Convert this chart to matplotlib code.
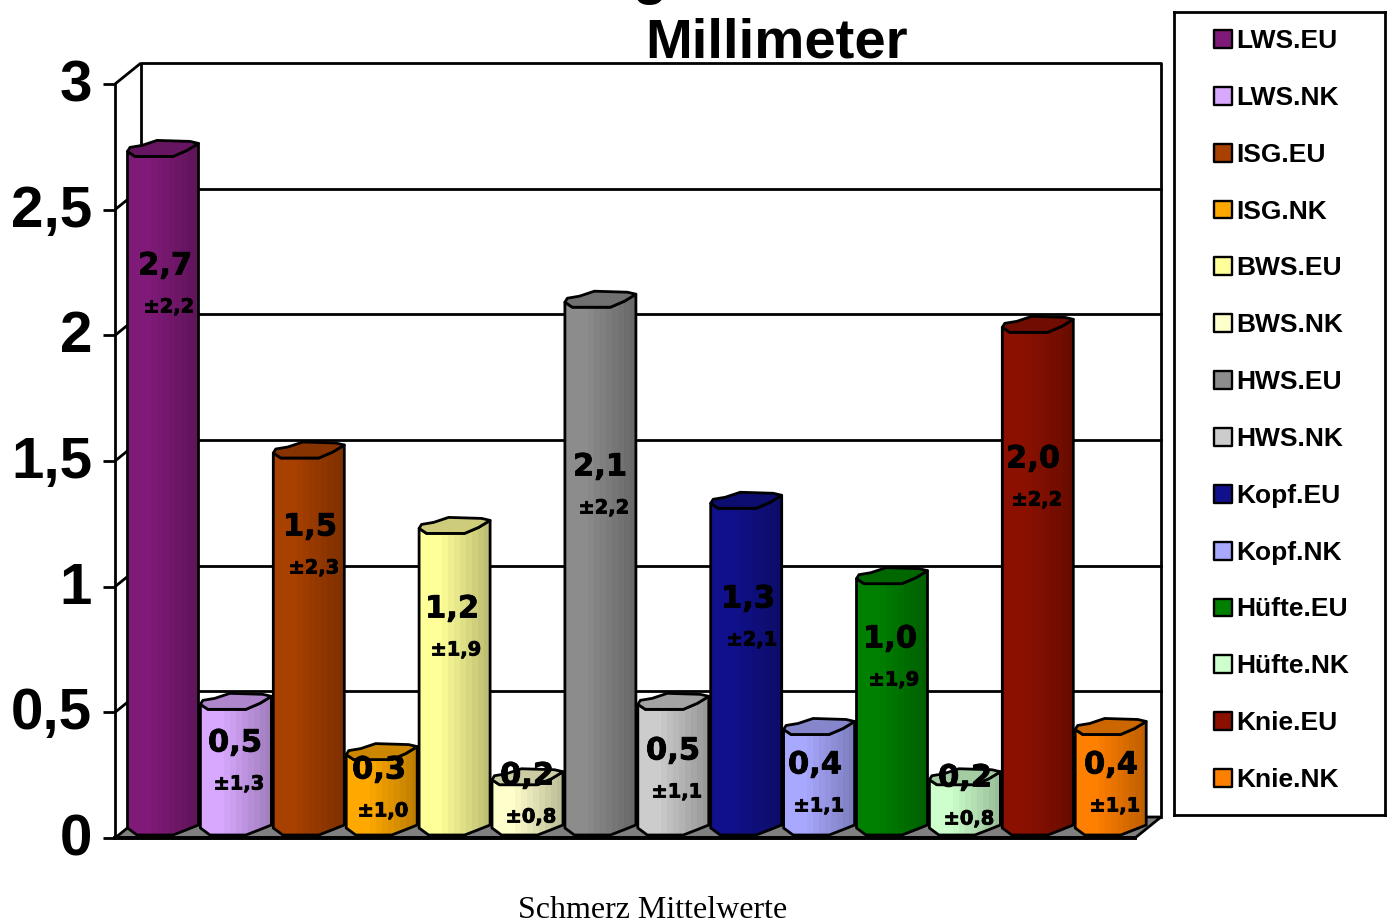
#!/usr/bin/env python3

# Pain means per region, EU and NK, drawn as pseudo-3D cylinders

import matplotlib
matplotlib.use('Agg')
import matplotlib.pyplot as plt
import matplotlib.patheffects as pe
from matplotlib.patches import Polygon
from matplotlib.transforms import Affine2D, IdentityTransform

W, H = 1389, 922

names = ['LWS.EU', 'LWS.NK', 'ISG.EU', 'ISG.NK', 'BWS.EU', 'BWS.NK', 'HWS.EU',
         'HWS.NK', 'Kopf.EU', 'Kopf.NK', 'Hüfte.EU', 'Hüfte.NK', 'Knie.EU',
         'Knie.NK']
means = [2.7, 0.5, 1.5, 0.3, 1.2, 0.2, 2.1, 0.5, 1.3, 0.4, 1.0, 0.2, 2.0, 0.4]
sds = [2.2, 1.3, 2.3, 1.0, 1.9, 0.8, 2.2, 1.1, 2.1, 1.1, 1.9, 0.8, 2.2, 1.1]
colors = ['#801a78', '#d8a8ff', '#a84000', '#ffa800', '#ffff99', '#ffffcc',
          '#8c8c8c', '#cccccc', '#10108c', '#a8a8ff', '#008000', '#ccffcc',
          '#8c1000', '#ff7f00']
yticks = [0, 0.5, 1, 1.5, 2, 2.5, 3]
yticklabels = ['0', '0,5', '1', '1,5', '2', '2,5', '3']

# where the value labels sit, in picture pixels (they do not follow the bars)
label_px = [(165, 266), (235, 743), (310, 527), (379, 770), (452, 609),
            (527, 776), (600, 467), (673, 751), (748, 599), (815, 765),
            (890, 639), (965, 778), (1033, 459), (1111, 765)]

# cylinder outline as pixel offsets from the bar centre
rim_front = [(-35.5, 5), (-28, 0), (10, 0), (24, 6), (35.5, 13)]
rim_back = [(27, 15), (-6, 16), (-21, 11), (-33, 9)]
base_front = [(-35.5, 7), (-26, 0), (10, 0), (23, 5), (35.5, 10)]

SANS = 'Liberation Sans'
WALL_DX, WALL_DY = 26, 21
LINE = 2.0


def shade(color, f):
    r, g, b = matplotlib.colors.to_rgb(color)
    return (r * f, g * f, b * f)


def put(x, y, s, va='center', **kw):
    """Text placed by picture pixels."""
    return fig.text(x / W, 1 - y / H, s, ha='center', va=va, **kw)


fig = plt.figure(figsize=(W / 100, H / 100), dpi=100)
left, right, top, bottom = 115, 1135, 84, 838
ax = fig.add_axes([left / W, 1 - bottom / H, (right - left) / W,
                   (bottom - top) / H])
ax.set_xlim((left - 163) / 72.9, (right - 163) / 72.9)
ax.set_ylim(0, 3)
ax.patch.set_visible(False)
for side in ['top', 'right']:
    ax.spines[side].set_visible(False)
ax.spines['left'].set_linewidth(LINE)
ax.spines['bottom'].set_linewidth(2.8)
ax.set_xticks([])
ax.set_yticks(yticks, yticklabels, fontfamily=SANS, fontweight='bold',
              fontsize=42)
ax.tick_params(axis='y', length=8.5, width=LINE, pad=8)
for tl in ax.get_yticklabels():
    tl.set_transform(tl.get_transform() + Affine2D().translate(0, 4))

# back wall, side wall and floor, shifted off the front plane
x0, x1 = ax.get_xlim()
wall = ax.transData + Affine2D().translate(WALL_DX, WALL_DY)
ax.plot([x0, x0, x1, x1], [0, 3, 3, 0], color='k', lw=LINE, transform=wall,
        clip_on=False, zorder=1)
for v in yticks[1:-1]:
    ax.plot([x0, x1], [v, v], color='k', lw=LINE, transform=wall, clip_on=False,
            zorder=1)
for v in yticks[1:]:
    a = ax.transData.transform((x0, v))
    ax.add_patch(Polygon([a, a + (WALL_DX, WALL_DY)], closed=False, fill=False,
                         ec='k', lw=LINE, transform=IdentityTransform(),
                         clip_on=False, zorder=1))
f0 = ax.transData.transform((x0, 0))
f1 = ax.transData.transform((x1, 0))
ax.add_patch(Polygon([f0, f1, f1 + (WALL_DX, WALL_DY), f0 + (WALL_DX, WALL_DY)],
                     fc='#808080', ec='k', lw=LINE, transform=IdentityTransform(),
                     clip_on=False, zorder=1.5))

# the cylinders, each a stack of narrow shaded bars clipped to its outline
lift = ax.transData + Affine2D().translate(0, 3)
bar_w = 72 / 72.9
n_bands = 12
rim_h = 16 * 3 / (bottom - top)
for i, (v, c) in enumerate(zip(means, colors)):
    z = 2 + i
    cx, by = lift.transform((i, 0))
    _, ty = lift.transform((i, v))
    body = [(cx + dx, by + dy) for dx, dy in base_front]
    body += [(cx + dx, ty + dy) for dx, dy in reversed(rim_front)]
    outline = Polygon(body, closed=True, fill=False, ec='k', lw=LINE,
                      joinstyle='round', transform=IdentityTransform(),
                      clip_on=False, zorder=z + .2)
    ax.add_patch(outline)
    for k in range(n_bands):
        f = 1.0 if k < 4 else 1.0 - 0.25 * (k - 3) / (n_bands - 4)
        xb = i - bar_w / 2 + (k + 0.5) * bar_w / n_bands
        rects = ax.bar(xb, v + rim_h, width=bar_w / n_bands * 1.05,
                       color=shade(c, f), transform=lift, zorder=z, lw=0)
        rects[0].set_clip_box(None)
        rects[0].set_clip_path(outline)
    face = [(cx + dx, ty + dy) for dx, dy in rim_front + rim_back]
    ax.add_patch(Polygon(face, closed=True, fc=shade(c, 0.8), ec='k', lw=LINE,
                         joinstyle='round', transform=IdentityTransform(),
                         clip_on=False, zorder=z + .3))

ax.set_xlim(x0, x1)
ax.set_ylim(0, 3)

# value labels
heavy = [pe.withStroke(linewidth=0.6, foreground='k')]
for v, sd, (lx, ly) in zip(means, sds, label_px):
    put(lx, ly, f'{v:.1f}'.replace('.', ','), family='DejaVu Sans',
        fontweight='bold', fontsize=22, color='k', zorder=30, path_effects=heavy)
    put(lx + 4, ly + 41, '±' + f'{sd:.1f}'.replace('.', ','),
        family='DejaVu Sans', fontweight='bold', fontsize=14, color='k',
        zorder=30, path_effects=heavy)

# title, its first line is cut off by the top of the picture
put(650, -7, 'g', va='baseline', family=SANS, fontweight='bold', fontsize=40.5)
put(777, 43, 'Millimeter', family=SANS, fontweight='bold', fontsize=40.5)
put(653, 910, 'Schmerz Mittelwerte', family='Liberation Serif', fontsize=23)

# legend box
lx0, lx1, ly0, ly1 = 1174, 1385, 12, 815
leg = fig.add_axes([lx0 / W, 1 - ly1 / H, (lx1 - lx0) / W, (ly1 - ly0) / H])
leg.set_xlim(lx0, lx1)
leg.set_ylim(13 + (815 - 778) / 56.85, -(39 - 12) / 56.85)
leg.set_xticks([])
leg.set_yticks([])
for s in leg.spines.values():
    s.set_linewidth(LINE)
rows = list(range(len(names)))
leg.scatter([1223] * len(rows), rows, marker='s', s=165, c=colors,
            edgecolors='k', linewidths=1.7)
for r, name in zip(rows, names):
    leg.text(1236, r + 0.035, name, family=SANS, fontweight='bold', fontsize=19,
             va='center', ha='left')

fig.savefig('out.png', dpi=100)
